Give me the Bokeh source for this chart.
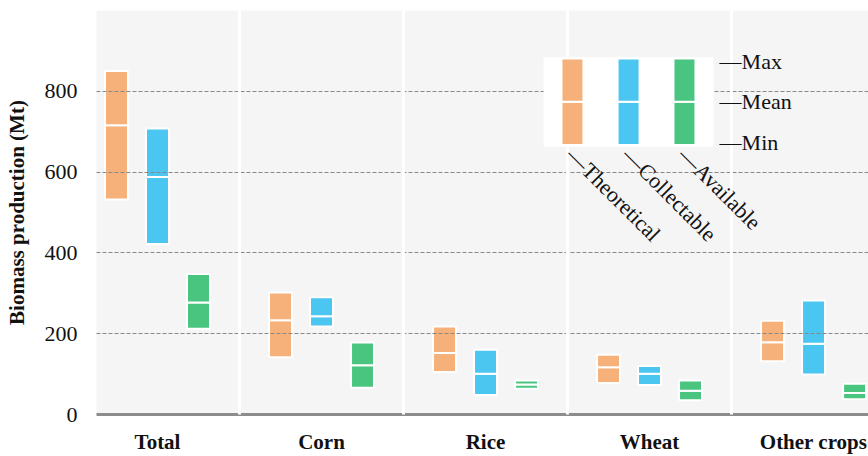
from bokeh.plotting import figure
from bokeh.models import ColumnDataSource, FixedTicker, Range1d
from bokeh.core.properties import value
from bokeh.embed import file_html
from bokeh.resources import INLINE
import math

# Crop residue biomass (Mt): min / mean / max per crop and per potential level
categories = ["Total", "Corn", "Rice", "Wheat", "Other crops"]
series = ["Theoretical", "Collectable", "Available"]

theoretical_max = [850, 302, 218, 148, 232]
theoretical_mean = [716, 233, 152, 117, 179]
theoretical_min = [532, 142, 105, 78, 132]

collectable_max = [708, 290, 160, 120, 282]
collectable_mean = [588, 243, 101, 101, 175]
collectable_min = [422, 218, 48, 73, 99]

available_max = [348, 178, 84, 84, 76]
available_mean = [277, 122, 74, 59, 53]
available_min = [212, 66, 64, 35, 38]

y_ticks = [0, 200, 400, 600, 800]

# sample bar used in the inset key
key_labels = ["Max", "Mean", "Min"]
key_max, key_mean, key_min = 881, 774, 667

colors = ["#F6B17A", "#4BC6F0", "#4AC57F"]
FONT = value("Liberation Serif")

p = figure(
    width=868, height=456,
    x_range=Range1d(-0.372, 4.335), y_range=Range1d(0, 1000),
    output_backend="svg", toolbar_location=None,
    min_border_left=96, min_border_top=10, min_border_bottom=41, min_border_right=0,
)
p.outline_line_color = None
p.background_fill_color = "#F5F5F5"
p.border_fill_color = "white"

offsets = [-0.25, 0.0, 0.25]
bar_w = 0.14
table = [
    (theoretical_min, theoretical_mean, theoretical_max),
    (collectable_min, collectable_mean, collectable_max),
    (available_min, available_mean, available_max),
]
for k, (mins, means, maxs) in enumerate(table):
    xs = [i + offsets[k] for i in range(len(categories))]
    src = ColumnDataSource(dict(x=xs, lo=mins, mid=means, hi=maxs))
    p.vbar(x="x", width=bar_w, bottom="lo", top="mid", source=src,
           fill_color=colors[k], line_color="white", line_width=2)
    p.vbar(x="x", width=bar_w, bottom="mid", top="hi", source=src,
           fill_color=colors[k], line_color="white", line_width=2)

# dashed value grid above the bars, white category separators above that
p.ygrid.ticker = FixedTicker(ticks=[t for t in y_ticks if t > 0])
p.ygrid.grid_line_color = "#888888"
p.ygrid.grid_line_dash = "4 2"
p.ygrid.grid_line_width = 1
p.ygrid.level = "guide"

p.xgrid.ticker = FixedTicker(ticks=[i + 0.5 for i in range(len(categories) - 1)])
p.xgrid.grid_line_color = "white"
p.xgrid.grid_line_width = 3
p.xgrid.level = "annotation"

# axes
p.xaxis.ticker = FixedTicker(ticks=list(range(len(categories))))
p.xaxis.major_label_overrides = {i: c for i, c in enumerate(categories)}
p.xaxis.major_tick_out = 0
p.xaxis.major_tick_in = 0
p.xaxis.minor_tick_line_color = None
p.xaxis.axis_line_color = "#8C8C8C"
p.xaxis.axis_line_width = 3
p.xaxis.major_label_standoff = 15
p.xaxis.major_label_text_font = "Liberation Serif"
p.xaxis.major_label_text_font_size = "21px"
p.xaxis.major_label_text_font_style = "bold"
p.xaxis.major_label_text_color = "#111111"

p.yaxis.ticker = FixedTicker(ticks=y_ticks)
p.yaxis.axis_line_color = None
p.yaxis.major_tick_out = 0
p.yaxis.major_tick_in = 0
p.yaxis.minor_tick_line_color = None
p.yaxis.major_label_standoff = 19
p.yaxis.major_label_text_font = "Liberation Serif"
p.yaxis.major_label_text_font_size = "22px"
p.yaxis.major_label_text_color = "#111111"
p.yaxis.axis_label = "Biomass production (Mt)"
p.yaxis.axis_label_text_font = "Liberation Serif"
p.yaxis.axis_label_text_font_size = "21px"
p.yaxis.axis_label_text_font_style = "bold"
p.yaxis.axis_label_text_color = "#111111"
p.yaxis.axis_label_standoff = 13

# inset key: white panel with one sample bar per series
key_x = [2.530, 2.872, 3.213]
p.quad(left=2.354, right=3.390, bottom=663, top=884,
       fill_color="white", line_color=None, level="overlay")
for k in range(3):
    p.vbar(x=key_x[k], width=0.134, bottom=key_min, top=key_mean,
           fill_color=colors[k], line_color="white", line_width=2, level="overlay")
    p.vbar(x=key_x[k], width=0.134, bottom=key_mean, top=key_max,
           fill_color=colors[k], line_color="white", line_width=2, level="overlay")

p.text(x=[3.427] * 3, y=[874, 774, 674], text=["\u2014" + t for t in key_labels],
       text_font=FONT, text_font_size="22px", text_color="#111111",
       text_align="left", text_baseline="middle", level="overlay")

p.text(x=[kx - 0.013 for kx in key_x], y=[652] * 3, text=["\u2014" + s for s in series],
       angle=-math.pi / 4, text_font=FONT, text_font_size="22px", text_color="#111111",
       text_align="left", text_baseline="middle", level="overlay")

open("out.html", "w").write(file_html(p, INLINE))
